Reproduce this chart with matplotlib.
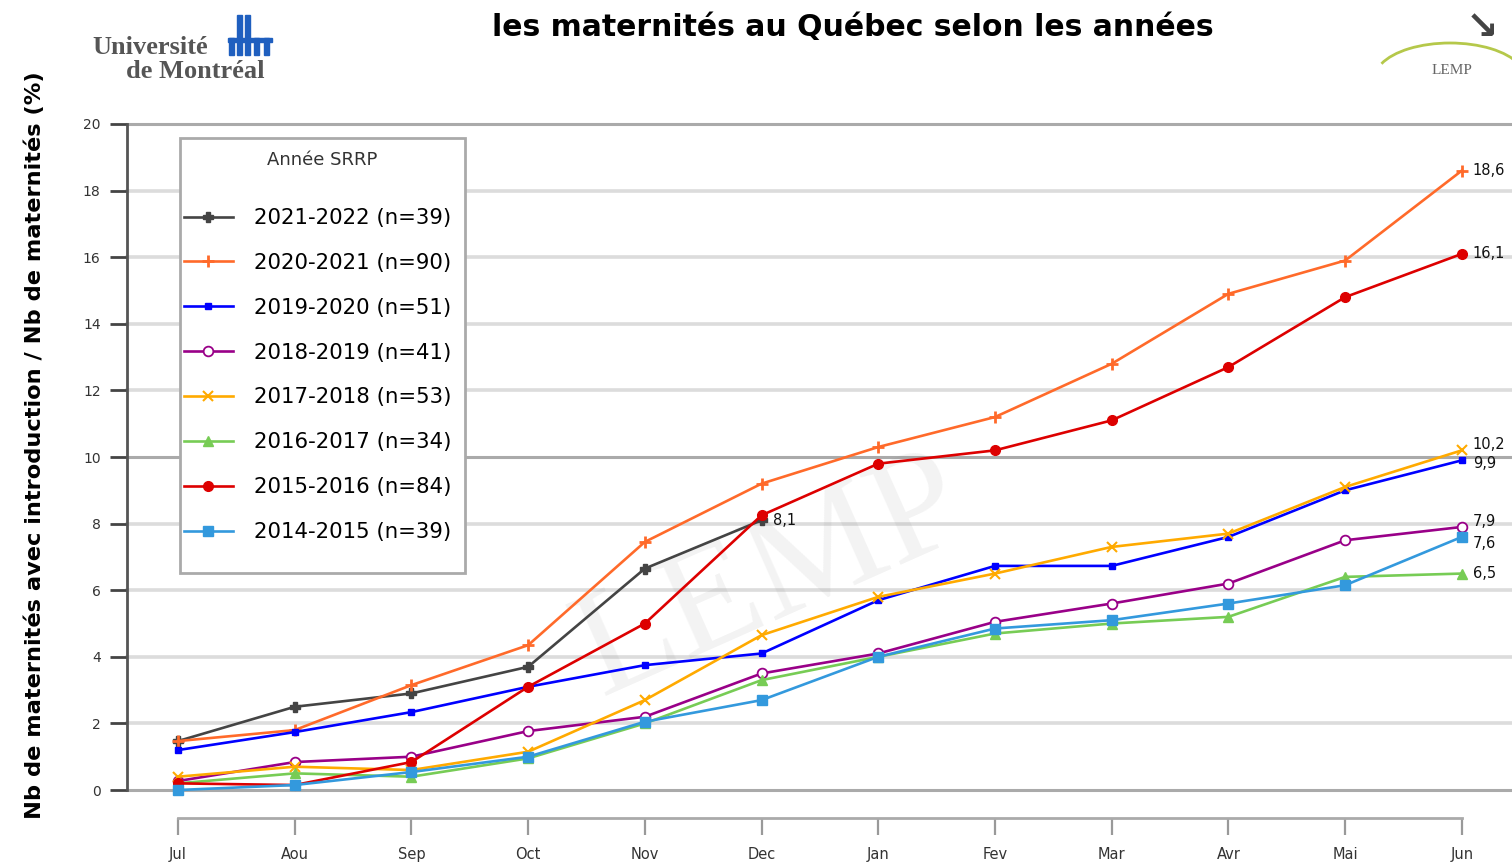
import matplotlib

matplotlib.use("Agg")
import matplotlib.pyplot as plt
from matplotlib.patches import Arc, Rectangle

MONTHS = ["Jul", "Aou", "Sep", "Oct", "Nov", "Dec", "Jan", "Fev", "Mar", "Avr", "Mai", "Jun"]

SERIES_LABELS = [
    "2021-2022 (n=39)",
    "2020-2021 (n=90)",
    "2019-2020 (n=51)",
    "2018-2019 (n=41)",
    "2017-2018 (n=53)",
    "2016-2017 (n=34)",
    "2015-2016 (n=84)",
    "2014-2015 (n=39)",
]

Y_2021_2022 = [1.47, 2.5, 2.9, 3.7, 6.65, 8.1]
Y_2020_2021 = [1.47, 1.8, 3.15, 4.35, 7.45, 9.2, 10.3, 11.2, 12.8, 14.9, 15.9, 18.6]
Y_2019_2020 = [1.2, 1.74, 2.34, 3.1, 3.75, 4.1, 5.7, 6.73, 6.73, 7.6, 9.0, 9.9]
Y_2018_2019 = [0.27, 0.84, 1.0, 1.77, 2.2, 3.5, 4.1, 5.05, 5.6, 6.2, 7.5, 7.9]
Y_2017_2018 = [0.4, 0.7, 0.6, 1.15, 2.7, 4.65, 5.8, 6.5, 7.3, 7.7, 9.1, 10.2]
Y_2016_2017 = [0.2, 0.5, 0.4, 0.95, 2.0, 3.3, 4.0, 4.7, 5.0, 5.2, 6.4, 6.5]
Y_2015_2016 = [0.2, 0.15, 0.84, 3.1, 5.0, 8.25, 9.8, 10.2, 11.1, 12.7, 14.8, 16.1]
Y_2014_2015 = [0.0, 0.15, 0.54, 1.0, 2.05, 2.7, 4.0, 4.85, 5.1, 5.6, 6.15, 7.6]

END_LABELS = ["8,1", "18,6", "9,9", "7,9", "10,2", "6,5", "16,1", "7,6"]
# small vertical nudges (points) so the end labels do not sit on each other
END_LABEL_DY = [0, 0, -2, 4, 4, 0, 0, -5]

ALL_Y = [Y_2021_2022, Y_2020_2021, Y_2019_2020, Y_2018_2019,
         Y_2017_2018, Y_2016_2017, Y_2015_2016, Y_2014_2015]

STYLES = [
    dict(color="#444444", marker="P", ms=7, mfc="#444444"),
    dict(color="#ff6a2a", marker="+", ms=8, mew=2),
    dict(color="#0000ff", marker="s", ms=5),
    dict(color="#990088", marker="o", ms=7, mfc="white", mew=1.3),
    dict(color="#ffaa00", marker="x", ms=7, mew=1.5),
    dict(color="#77cc55", marker="^", ms=7),
    dict(color="#dd0000", marker="o", ms=7),
    dict(color="#3399dd", marker="s", ms=7),
]

W, H = 1512, 863


def fx(px):
    return px / W


def fy(py):
    return 1 - py / H


fig = plt.figure(figsize=(15.12, 8.63), dpi=100)
ax = fig.add_axes([fx(127), fy(818), (W - 127) / W, (818 - 124) / H])
ax.set_xlim(-0.437, 11.43)
ax.set_ylim(-0.84, 20.0)

# horizontal grid
for yv in range(0, 21, 2):
    major = yv % 10 == 0
    ax.axhline(yv, color="#aaaaaa" if major else "#dcdcdc",
               lw=2.2 if major else 2.6, zorder=0, clip_on=False)

# watermark
ax.text(5.1, 6.3, "LEMP", fontsize=110, family="Liberation Serif", color="#888888",
        alpha=0.1, rotation=24, ha="center", va="center", zorder=0)

for ys, lab, st, end, dy in zip(ALL_Y, SERIES_LABELS, STYLES, END_LABELS, END_LABEL_DY):
    xs = list(range(len(ys)))
    ax.plot(xs, ys, lw=1.9, label=lab, zorder=3, **st)
    ax.annotate(end, (xs[-1], ys[-1]), xytext=(8, dy), textcoords="offset points",
                fontsize=10.5, color="#111111", va="center", ha="left",
                annotation_clip=False)

ax.set_xticks(range(len(MONTHS)))
ax.set_xticklabels(MONTHS)
ax.set_yticks(range(0, 21, 2))
ax.tick_params(axis="y", length=12, width=2, color="#444444", labelsize=10,
               pad=7, labelcolor="#333333")
ax.tick_params(axis="x", length=12, width=1.6, color="#999999", labelsize=10.5,
               pad=9, labelcolor="#333333")
for s in ("top", "right"):
    ax.spines[s].set_visible(False)
ax.spines["left"].set_bounds(0, 20)
ax.spines["left"].set_color("#555555")
ax.spines["left"].set_linewidth(2)
ax.spines["bottom"].set_bounds(0, 11)
ax.spines["bottom"].set_color("#aaaaaa")
ax.spines["bottom"].set_linewidth(2)

# legend: own frame + title, entries without frame
ax.add_patch(Rectangle((fx(180), fy(573)), (465 - 180) / W, (573 - 138) / H,
                       transform=fig.transFigure, facecolor="white",
                       edgecolor="#aaaaaa", lw=2, zorder=5, clip_on=False))
ax.text(fx(322), fy(160), "Année SRRP", fontsize=13, color="#333333",
        transform=fig.transFigure, ha="center", va="center", zorder=6)
leg = ax.legend(loc="upper left", bbox_to_anchor=(fx(184), fy(208)),
                bbox_transform=fig.transFigure, fontsize=15.3, frameon=False,
                labelspacing=1.17, handlelength=2.3, handletextpad=1.0,
                borderpad=0, borderaxespad=0)
leg.set_zorder(7)

fig.text(fx(853), fy(28), "les maternités au Québec selon les années",
         fontsize=21.5, fontweight="bold", family="DejaVu Sans", ha="center", va="center")
fig.text(fx(35), fy(445),
         "Nb de maternités avec introduction / Nb de maternités (%)",
         fontsize=16.2, fontweight="bold", family="DejaVu Sans", rotation=90,
         ha="center", va="center")

# Université de Montréal logo (approximation)
fig.text(fx(150), fy(47), "Université", fontsize=19, family="Liberation Serif",
         color="#555555", ha="center", va="center", fontweight="bold")
fig.text(fx(195), fy(71), "de Montréal", fontsize=19, family="Liberation Serif",
         color="#555555", ha="center", va="center", fontweight="bold")
for x0, y0, h in [(229, 38, 17), (237, 15, 40), (245, 15, 40), (254, 38, 17), (264, 38, 17)]:
    fig.patches.append(Rectangle((fx(x0), fy(y0 + h)), 5 / W, h / H,
                                 transform=fig.transFigure, color="#1f5fbf"))
fig.patches.append(Rectangle((fx(228), fy(42)), 44 / W, 4 / H,
                             transform=fig.transFigure, color="#1f5fbf"))

# LEMP logo (approximation)
fig.patches.append(Arc((fx(1450), fy(78)), 150 / W, 70 / H,
                       theta1=20, theta2=160, transform=fig.transFigure,
                       color="#b5c84a", lw=2))
fig.text(fx(1452), fy(70), "LEMP", fontsize=11, family="Liberation Serif",
         color="#666666", ha="center", va="center")
fig.text(fx(1482), fy(28), "↘", fontsize=28, color="#444444", fontweight="bold",
         ha="center", va="center")

fig.savefig("out.png", dpi=100)
